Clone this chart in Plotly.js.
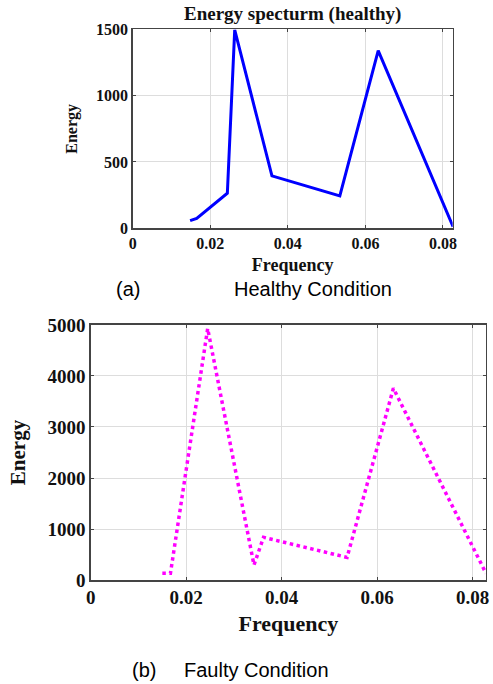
<!DOCTYPE html>
<html>
<head>
<meta charset="utf-8">
<script src="https://cdn.plot.ly/plotly-3.0.1.min.js"></script>
<style>html,body{margin:0;padding:0;background:#fff;}#chart{width:493px;height:684px;}</style>
</head>
<body>
<div id="chart"></div>
<script>
// Healthy condition spectrum
const healthyFreq = [0.0148, 0.0165, 0.0244, 0.0263, 0.0359, 0.0534, 0.0633, 0.0826];
const healthyEnergy = [58, 75, 264, 1495, 395, 244, 1339, 12];
// Faulty condition spectrum
const faultyFreq = [0.0150, 0.0167, 0.0245, 0.0342, 0.0362, 0.0537, 0.0634, 0.0828];
const faultyEnergy = [131, 131, 4930, 294, 837, 444, 3758, 131];

const xTicks = [0, 0.02, 0.04, 0.06, 0.08];
const xTickText = ['0', '0.02', '0.04', '0.06', '0.08'];
const yTicksTop = [0, 500, 1000, 1500];
const yTicksBottom = [0, 1000, 2000, 3000, 4000, 5000];

const serif = 'Liberation Serif, Times New Roman, serif';
const sans = 'Liberation Sans, Arial, sans-serif';

const traces = [
  {x: healthyFreq, y: healthyEnergy, xaxis: 'x', yaxis: 'y', mode: 'lines',
   line: {color: '#0000ff', width: 3}, hoverinfo: 'skip'},
  {x: faultyFreq, y: faultyEnergy, xaxis: 'x2', yaxis: 'y2', mode: 'lines',
   line: {color: '#ff00ff', width: 3.5, dash: 'dot'}, hoverinfo: 'skip'}
];

function axisBase(fontSize) {
  return {
    showline: true, linecolor: '#444', linewidth: 1.5, mirror: 'ticks',
    ticks: 'inside', ticklen: 3, tickcolor: '#444',
    showgrid: true, gridcolor: '#dddddd', gridwidth: 1,
    zeroline: false,
    tickfont: {family: serif, size: fontSize, color: '#111', weight: 'bold'}
  };
}

const layout = {
  width: 493, height: 684,
  margin: {l: 0, r: 0, t: 0, b: 0},
  paper_bgcolor: '#ffffff', plot_bgcolor: '#ffffff',
  showlegend: false,
  xaxis: Object.assign(axisBase(16), {
    domain: [0.2692, 0.9182], anchor: 'y',
    range: [0, 0.0825], tickvals: xTicks, ticktext: xTickText,
    title: {text: 'Frequency', font: {family: serif, size: 18, color: '#111', weight: 'bold'}, standoff: 7}
  }),
  yaxis: Object.assign(axisBase(16), {
    domain: [0.6662, 0.9572], anchor: 'x',
    range: [0, 1500], tickvals: yTicksTop,
    title: {text: 'Energy', font: {family: serif, size: 16, color: '#111', weight: 'bold'}, standoff: 14}
  }),
  xaxis2: Object.assign(axisBase(19), {
    domain: [0.184, 0.9858], anchor: 'y2',
    range: [0, 0.0828], tickvals: xTicks, ticktext: xTickText,
    title: {text: 'Frequency', font: {family: serif, size: 22, color: '#111', weight: 'bold'}, standoff: 8}
  }),
  yaxis2: Object.assign(axisBase(19), {
    domain: [0.152, 0.5249], anchor: 'x2',
    range: [0, 5000], tickvals: yTicksBottom,
    title: {text: 'Energy', font: {family: serif, size: 21, color: '#111', weight: 'bold'}, standoff: 16}
  }),
  annotations: [
    {text: 'Energy specturm (healthy)', xref: 'paper', yref: 'paper', x: 292/493, y: 1 - 14/684,
     showarrow: false, xanchor: 'center', yanchor: 'middle',
     font: {family: serif, size: 19, color: '#111', weight: 'bold'}},
    {text: '(a)', xref: 'paper', yref: 'paper', x: 128/493, y: 1 - 289/684,
     showarrow: false, xanchor: 'center', yanchor: 'middle',
     font: {family: sans, size: 20, color: '#000'}},
    {text: 'Healthy Condition', xref: 'paper', yref: 'paper', x: 313/493, y: 1 - 289/684,
     showarrow: false, xanchor: 'center', yanchor: 'middle',
     font: {family: sans, size: 20, color: '#000'}},
    {text: '(b)', xref: 'paper', yref: 'paper', x: 144/493, y: 1 - 670/684,
     showarrow: false, xanchor: 'center', yanchor: 'middle',
     font: {family: sans, size: 20, color: '#000'}},
    {text: 'Faulty Condition', xref: 'paper', yref: 'paper', x: 256/493, y: 1 - 670/684,
     showarrow: false, xanchor: 'center', yanchor: 'middle',
     font: {family: sans, size: 20, color: '#000'}}
  ]
};

Plotly.newPlot('chart', traces, layout, {staticPlot: true, displayModeBar: false});
</script>
</body>
</html>
